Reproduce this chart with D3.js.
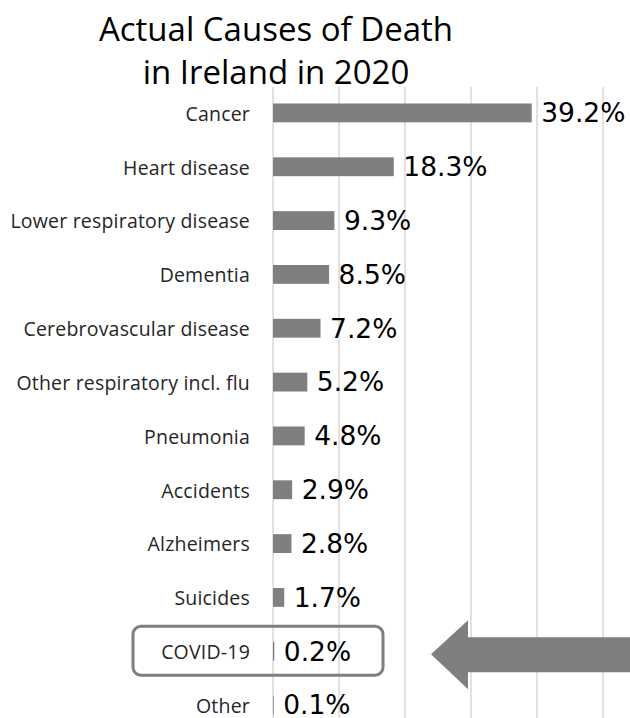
<!DOCTYPE html>
<html>
<head>
<meta charset="utf-8">
<script src="https://cdn.jsdelivr.net/npm/d3@7"></script>
<style>
  html, body { margin: 0; padding: 0; background: #ffffff; }
  svg { display: block; font-family: "Open Sans", sans-serif; }
</style>
</head>
<body>
<svg id="chart" width="630" height="718"></svg>
<script>
const categories = ["Cancer", "Heart disease", "Lower respiratory disease", "Dementia",
  "Cerebrovascular disease", "Other respiratory incl. flu", "Pneumonia", "Accidents",
  "Alzheimers", "Suicides", "COVID-19", "Other"];
const values = [39.2, 18.3, 9.3, 8.5, 7.2, 5.2, 4.8, 2.9, 2.8, 1.7, 0.2, 0.1];
const gridTicks = [0, 10, 20, 30, 40, 50];
const titleLines = ["Actual Causes of Death", "in Ireland in 2020"];
const highlight = "COVID-19";

const svg = d3.select("#chart");
const x = d3.scaleLinear().domain([0, 50]).range([273, 603]);
const y = d3.scaleBand().domain(categories).range([86, 732]).paddingInner(0.65).paddingOuter(0.325);

// gridlines
svg.append("g").selectAll("line").data(gridTicks).join("line")
  .attr("x1", d => x(d)).attr("x2", d => x(d))
  .attr("y1", 87).attr("y2", 718)
  .attr("stroke", "#d9d9d9").attr("stroke-width", 1.5);

// title
svg.append("g").selectAll("text").data(titleLines).join("text")
  .attr("x", 276).attr("y", (d, i) => 40.5 + i * 43.5)
  .attr("text-anchor", "middle")
  .attr("font-size", 33).attr("fill", "#000")
  .text(d => d);

// bars
const data = categories.map((c, i) => ({ c, v: values[i] }));
svg.append("g").selectAll("rect").data(data).join("rect")
  .attr("x", x(0)).attr("y", d => y(d.c))
  .attr("width", d => x(d.v) - x(0)).attr("height", y.bandwidth())
  .attr("fill", "#7f7f7f");

// category labels
svg.append("g").selectAll("text").data(data).join("text")
  .attr("x", 250).attr("y", d => y(d.c) + y.bandwidth() / 2)
  .attr("dy", "0.4em").attr("text-anchor", "end")
  .attr("font-size", 19.5).attr("letter-spacing", 0.2).attr("fill", "#262626")
  .text(d => d.c);

// value labels
svg.append("g").selectAll("text").data(data).join("text")
  .attr("x", d => x(d.v) + 9.5).attr("y", d => y(d.c) + y.bandwidth() / 2)
  .attr("dy", "0.35em")
  .attr("font-family", "'DejaVu Sans', sans-serif")
  .attr("font-size", 26.5).attr("fill", "#000")
  .text(d => d.v.toFixed(1) + "%");

// highlight box around COVID-19
const cy = y(highlight) + y.bandwidth() / 2;
svg.append("rect")
  .attr("x", 133).attr("y", cy - 25).attr("width", 250).attr("height", 49)
  .attr("rx", 8).attr("ry", 8)
  .attr("fill", "none").attr("stroke", "#7f7f7f").attr("stroke-width", 3);

// arrow
const ay = cy + 3;
svg.append("path")
  .attr("d", `M431,${ay} L468,${ay - 34} L468,${ay - 17} L630,${ay - 17} L630,${ay + 18} L468,${ay + 18} L468,${ay + 35} Z`)
  .attr("fill", "#7f7f7f");
</script>
</body>
</html>
